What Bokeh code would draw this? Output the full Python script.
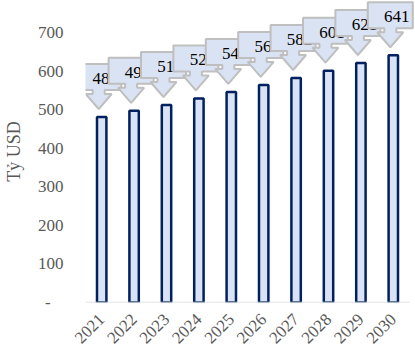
import math
from bokeh.plotting import figure
from bokeh.models import Range1d, FixedTicker
from bokeh.core.properties import value
from bokeh.embed import file_html
from bokeh.resources import INLINE

# Market size by year (billion USD)
years = ["2021", "2022", "2023", "2024", "2025", "2026", "2027", "2028", "2029", "2030"]
market = [481, 497, 512, 529, 546, 564, 582, 601, 621, 641]
y_ticks = [0, 100, 200, 300, 400, 500, 600, 700]

FRAME_W, FRAME_H = 330, 302
CAT_PX = 32.4                      # pixels per category slot
Y_END = 783.0
PX_X = 1.0 / CAT_PX                # data units per screen pixel (x)
PX_Y = Y_END / FRAME_H             # data units per screen pixel (y)

xs = list(range(1, len(years) + 1))

p = figure(
    frame_width=FRAME_W, frame_height=FRAME_H,
    min_border_left=85, min_border_right=0, min_border_top=0, min_border_bottom=56,
    x_range=Range1d(0.5, 0.5 + FRAME_W / CAT_PX),
    y_range=Range1d(0, Y_END),
    output_backend="svg", toolbar_location=None,
)
p.background_fill_color = "white"
p.border_fill_color = "white"
p.outline_line_color = None
p.xgrid.grid_line_color = None
p.ygrid.grid_line_color = None

# Bars
p.vbar(x=xs, top=market, width=0.29, bottom=0,
       fill_color="#dae3f3", line_color="#002060", line_width=2.5)

# Category baseline
p.segment(x0=[0.5], y0=[0], x1=[len(years) + 0.5], y1=[0],
          line_color="#d9d9d9", line_width=1.5)

# Down-arrow callouts; each one is drawn after the previous label,
# so its box overlaps the right end of that label
W, SW, HW = 45, 12, 26            # box, shaft, head widths (px)
GAP, HEAD, SHAFT, BOX = 8, 15, 4, 26  # vertical sizes (px)
shape = [(-W / 2, HEAD + SHAFT + BOX), (W / 2, HEAD + SHAFT + BOX),
         (W / 2, HEAD + SHAFT), (SW / 2, HEAD + SHAFT), (SW / 2, HEAD),
         (HW / 2, HEAD), (0, 0), (-HW / 2, HEAD), (-SW / 2, HEAD),
         (-SW / 2, HEAD + SHAFT), (-W / 2, HEAD + SHAFT)]
for x, v in zip(xs, market):
    cx = x - 3 * PX_X
    tip = v + GAP * PX_Y
    px = [cx + dx * PX_X for dx, _ in shape]
    py = [tip + dy * PX_Y for _, dy in shape]
    p.patch(px, py, fill_color="#dae3f3", line_color="#bfbfbf", line_width=2)
    ty = tip + (HEAD + SHAFT + BOX / 2 - 1.5) * PX_Y
    p.text(x=[x + 3.5 * PX_X], y=[ty], text=[str(v)],
           text_font=value("Liberation Serif"), text_font_size="17px",
           text_color="#000000", text_align="center", text_baseline="middle")

# Axes
p.yaxis.ticker = FixedTicker(ticks=y_ticks)
p.yaxis.major_label_overrides = {0: "-\u00a0\u00a0\u00a0"}
p.yaxis.axis_line_color = None
p.yaxis.major_tick_line_color = None
p.yaxis.minor_tick_line_color = None
p.yaxis.major_tick_in = 0
p.yaxis.major_tick_out = 0
p.yaxis.major_label_standoff = 22
p.yaxis.major_label_text_font = "Liberation Serif"
p.yaxis.major_label_text_font_size = "17px"
p.yaxis.major_label_text_color = "#595959"
p.yaxis.axis_label = "Tỷ USD"
p.yaxis.axis_label_text_font = "Liberation Serif"
p.yaxis.axis_label_text_font_size = "18px"
p.yaxis.axis_label_text_font_style = "normal"
p.yaxis.axis_label_text_color = "#595959"
p.yaxis.axis_label_standoff = 11

p.xaxis.ticker = FixedTicker(ticks=xs)
p.xaxis.major_label_overrides = {x: y for x, y in zip(xs, years)}
p.xaxis.axis_line_color = None
p.xaxis.major_tick_line_color = None
p.xaxis.minor_tick_line_color = None
p.xaxis.major_tick_in = 0
p.xaxis.major_tick_out = 0
p.xaxis.major_label_orientation = math.pi / 4
p.xaxis.major_label_standoff = 14
p.xaxis.major_label_text_font = "Liberation Serif"
p.xaxis.major_label_text_font_size = "17px"
p.xaxis.major_label_text_color = "#595959"

open("out.html", "w").write(file_html(p, INLINE))
